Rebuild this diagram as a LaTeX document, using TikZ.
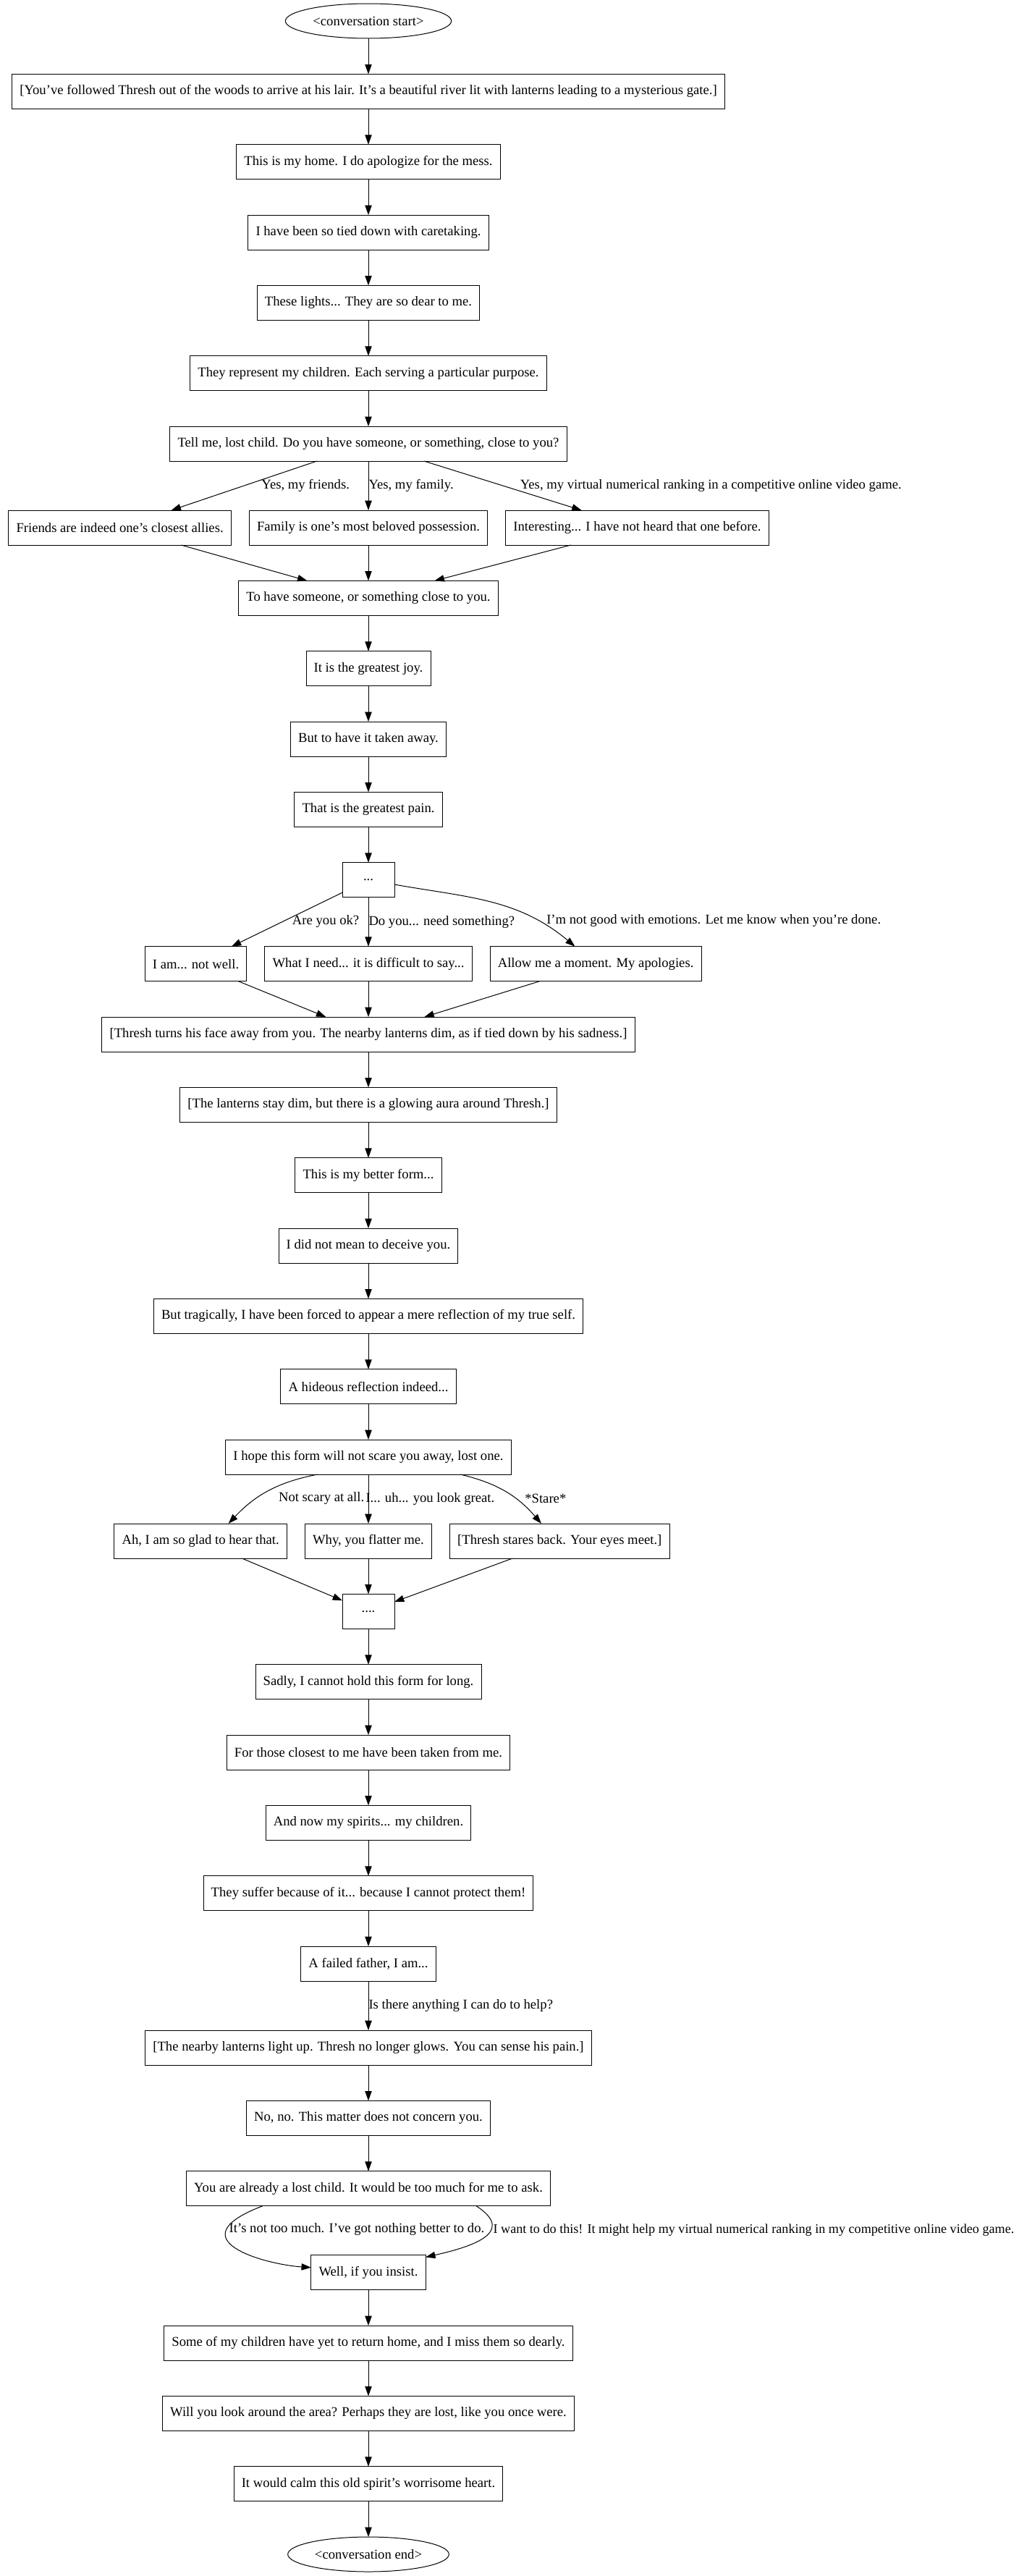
\documentclass[tikz,border=0pt]{standalone}
\usepackage{fontspec}
\setmainfont{Liberation Serif}
\usepackage{tikz}
\usetikzlibrary{shapes.geometric, arrows.meta, positioning}
\tikzset{
  dlgnode/.style={rectangle, draw=black, line width=0.75pt, minimum height=36pt,
                  minimum width=54pt, inner xsep=8pt, inner ysep=2pt, outer sep=0pt,
                  font=\fontsize{14pt}{16pt}\selectfont},
  endpoint/.style={ellipse, draw=black, line width=0.75pt, minimum height=36pt,
                   inner sep=1pt, outer sep=0pt, font=\fontsize{14pt}{16pt}\selectfont},
  choice/.style={anchor=west, inner sep=0pt, font=\fontsize{14pt}{16pt}\selectfont},
  arrow/.style={->, >={Triangle[length=10pt, width=7pt]}, line width=0.75pt, color=black}
}

\begin{document}
\begin{tikzpicture}[node distance=37pt]
  \useasboundingbox (0,0) rectangle (1055.25pt,-2669.25pt);

  % Opening
  \node[endpoint, minimum width=172pt] (start) at (381.75pt,-21.75pt) {<conversation start>};
  \node[dlgnode, below=of start] (intro)
      {[You’ve followed Thresh out of the woods to arrive at his lair. It’s a beautiful river lit with lanterns leading to a mysterious gate.]};
  \node[dlgnode, below=of intro] (home) {This is my home. I do apologize for the mess.};
  \node[dlgnode, below=of home] (tied) {I have been so tied down with caretaking.};
  \node[dlgnode, below=of tied] (lights) {These lights... They are so dear to me.};
  \node[dlgnode, below=of lights] (children) {They represent my children. Each serving a particular purpose.};
  \node[dlgnode, below=of children] (ask) {Tell me, lost child. Do you have someone, or something, close to you?};

  % First choice
  \node[dlgnode, below=51pt of ask] (family) {Family is one’s most beloved possession.};
  \node[dlgnode, left=18.75pt of family] (friends) {Friends are indeed one’s closest allies.};
  \node[dlgnode, right=18.75pt of family] (ranking) {Interesting... I have not heard that one before.};

  \node[dlgnode, below=of family] (closeone) {To have someone, or something close to you.};
  \node[dlgnode, below=of closeone] (joy) {It is the greatest joy.};
  \node[dlgnode, below=of joy] (takenaway) {But to have it taken away.};
  \node[dlgnode, below=of takenaway] (pain) {That is the greatest pain.};
  \node[dlgnode, below=of pain] (silence) {...};

  % Second choice
  \node[dlgnode, below=51pt of silence] (need) {What I need... it is difficult to say...};
  \node[dlgnode, left=18.75pt of need] (notwell) {I am... not well.};
  \node[dlgnode, right=18.75pt of need] (moment) {Allow me a moment. My apologies.};

  \node[dlgnode, below=of need] (turnaway)
      {[Thresh turns his face away from you. The nearby lanterns dim, as if tied down by his sadness.]};
  \node[dlgnode, below=of turnaway] (aura) {[The lanterns stay dim, but there is a glowing aura around Thresh.]};
  \node[dlgnode, below=of aura] (betterform) {This is my better form...};
  \node[dlgnode, below=of betterform] (deceive) {I did not mean to deceive you.};
  \node[dlgnode, below=of deceive] (tragic) {But tragically, I have been forced to appear a mere reflection of my true self.};
  \node[dlgnode, below=of tragic] (hideous) {A hideous reflection indeed...};
  \node[dlgnode, below=of hideous] (scare) {I hope this form will not scare you away, lost one.};

  % Third choice
  \node[dlgnode, below=51pt of scare] (flatter) {Why, you flatter me.};
  \node[dlgnode, left=18.75pt of flatter] (glad) {Ah, I am so glad to hear that.};
  \node[dlgnode, right=18.75pt of flatter] (stares) {[Thresh stares back. Your eyes meet.]};

  \node[dlgnode, below=of flatter] (pause) {....};
  \node[dlgnode, below=of pause] (holdform) {Sadly, I cannot hold this form for long.};
  \node[dlgnode, below=of holdform] (closest) {For those closest to me have been taken from me.};
  \node[dlgnode, below=of closest] (spirits) {And now my spirits... my children.};
  \node[dlgnode, below=of spirits] (suffer) {They suffer because of it... because I cannot protect them!};
  \node[dlgnode, below=of suffer] (father) {A failed father, I am...};
  \node[dlgnode, below=51pt of father] (lightup)
      {[The nearby lanterns light up. Thresh no longer glows. You can sense his pain.]};
  \node[dlgnode, below=of lightup] (concern) {No, no. This matter does not concern you.};
  \node[dlgnode, below=of concern] (lostchild) {You are already a lost child. It would be too much for me to ask.};

  % Closing
  \node[dlgnode, below=51pt of lostchild] (insist) {Well, if you insist.};
  \node[dlgnode, below=of insist] (missthem) {Some of my children have yet to return home, and I miss them so dearly.};
  \node[dlgnode, below=of missthem] (lookaround) {Will you look around the area? Perhaps they are lost, like you once were.};
  \node[dlgnode, below=of lookaround] (calm) {It would calm this old spirit’s worrisome heart.};
  \node[endpoint, minimum width=167pt, below=of calm] (finish) {<conversation end>};

  % Arrows
  \draw[arrow] (start) -- (intro);
  \draw[arrow] (intro) -- (home);
  \draw[arrow] (home) -- (tied);
  \draw[arrow] (tied) -- (lights);
  \draw[arrow] (lights) -- (children);
  \draw[arrow] (children) -- (ask);
  \draw[arrow] (ask) -- (friends) node[choice, midway, xshift=17.75pt] {Yes, my friends.};
  \draw[arrow] (ask) -- (family) node[choice, midway] {Yes, my family.};
  \draw[arrow] (ask) -- (ranking)
      node[choice, midway, xshift=17.75pt] {Yes, my virtual numerical ranking in a competitive online video game.};
  \draw[arrow] (friends) -- (closeone);
  \draw[arrow] (family) -- (closeone);
  \draw[arrow] (ranking) -- (closeone);
  \draw[arrow] (closeone) -- (joy);
  \draw[arrow] (joy) -- (takenaway);
  \draw[arrow] (takenaway) -- (pain);
  \draw[arrow] (pain) -- (silence);
  \draw[arrow] (silence) -- (notwell) node[choice, midway, xshift=5.25pt, yshift=-2.25pt] {Are you ok?};
  \draw[arrow] (silence) -- (need) node[choice, midway] {Do you... need something?};
  \draw[arrow] (silence) to[out=-10, in=140]
      node[choice, pos=0.78, xshift=8.5pt] {I’m not good with emotions. Let me know when you’re done.} (moment);
  \draw[arrow] (notwell) -- (turnaway);
  \draw[arrow] (need) -- (turnaway);
  \draw[arrow] (moment) -- (turnaway);
  \draw[arrow] (turnaway) -- (aura);
  \draw[arrow] (aura) -- (betterform);
  \draw[arrow] (betterform) -- (deceive);
  \draw[arrow] (deceive) -- (tragic);
  \draw[arrow] (tragic) -- (hideous);
  \draw[arrow] (hideous) -- (scare);
  \draw[arrow] ([xshift=-52.5pt]scare.south) to[bend right=18]
      node[choice, pos=0.5, xshift=10pt, yshift=-7.5pt] {Not scary at all.} ([xshift=28.9pt]glad.north);
  \draw[arrow] (scare) -- (flatter) node[choice, midway, xshift=-3pt] {I... uh... you look great.};
  \draw[arrow] ([xshift=95.25pt]scare.south) to[bend left=18]
      node[choice, pos=0.5, xshift=20pt, yshift=-7pt] {*Stare*} ([xshift=-19pt]stares.north);
  \draw[arrow] (glad) -- (pause);
  \draw[arrow] (flatter) -- (pause);
  \draw[arrow] (stares) -- (pause);
  \draw[arrow] (pause) -- (holdform);
  \draw[arrow] (holdform) -- (closest);
  \draw[arrow] (closest) -- (spirits);
  \draw[arrow] (spirits) -- (suffer);
  \draw[arrow] (suffer) -- (father);
  \draw[arrow] (father) -- (lightup) node[choice, midway] {Is there anything I can do to help?};
  \draw[arrow] (lightup) -- (concern);
  \draw[arrow] (concern) -- (lostchild);
  \draw[arrow] ([xshift=-109.5pt]lostchild.south) .. controls +(-92.25pt,-35.25pt) and +(-46.5pt,3pt) .. (insist.175)
      node[choice, pos=0.25, xshift=2.5pt] {It’s not too much. I’ve got nothing better to do.};
  \draw[arrow] ([xshift=111.75pt]lostchild.south) .. controls +(42.75pt,-27.75pt) and +(46.5pt,10.5pt) .. (insist.15)
      node[choice, pos=0.35, xshift=2pt, font=\fontsize{13.6pt}{16pt}\selectfont]
      {I want to do this! It might help my virtual numerical ranking in my competitive online video game.};
  \draw[arrow] (insist) -- (missthem);
  \draw[arrow] (missthem) -- (lookaround);
  \draw[arrow] (lookaround) -- (calm);
  \draw[arrow] (calm) -- (finish);

\end{tikzpicture}
\end{document}
